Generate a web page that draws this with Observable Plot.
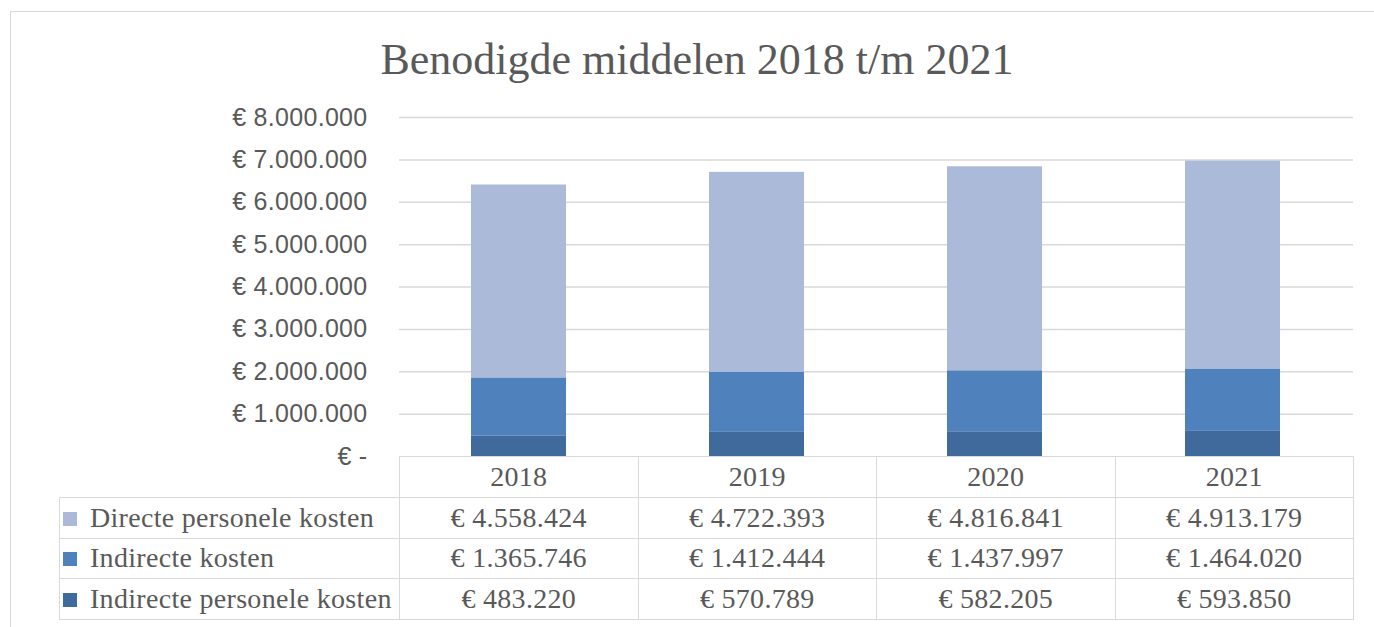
<!DOCTYPE html>
<html>
<head>
<meta charset="utf-8">
<script src="https://cdn.jsdelivr.net/npm/d3@7"></script>
<script src="https://cdn.jsdelivr.net/npm/@observablehq/plot@0.6"></script>
<style>
  html, body { margin: 0; padding: 0; background: #fff; }
  #wrap { position: relative; width: 1374px; height: 627px; overflow: hidden; background: #fff; }
  #frame { position: absolute; left: 10px; top: 11px; width: 1400px; height: 700px; border-top: 1.5px solid #d9d9d9; border-left: 1.5px solid #d9d9d9; box-sizing: border-box; }
  #title { position: absolute; left: 0; top: 34px; width: 1394px; text-align: center; font-family: "Liberation Serif", serif; font-size: 44px; color: #595959; white-space: nowrap; }
  #chart { position: absolute; left: 0; top: 0; }
  #tbl { position: absolute; left: 59px; top: 456px; border-collapse: collapse; font-family: "Liberation Serif", serif; font-size: 28px; letter-spacing: 0.3px; color: #595959; table-layout: fixed; }
  #tbl tr { height: 40.8px; }
  #tbl td { border: 1.5px solid #d9d9d9; padding: 0; text-align: center; white-space: nowrap; line-height: 30px; }
  #tbl td.lab { text-align: left; padding-left: 3px; }
  #tbl td.blank { border-top: none; border-left: none; }
  .key { display: inline-block; width: 14px; height: 14px; margin-right: 13px; vertical-align: 1px; }
</style>
</head>
<body>
<div id="wrap">
  <div id="frame"></div>
  <div id="title"></div>
  <div id="chart"></div>
  <table id="tbl"></table>
</div>
<script>
const titleText = "Benodigde middelen 2018 t/m 2021";
const years = ["2018", "2019", "2020", "2021"];
const seriesNames = ["Directe personele kosten", "Indirecte kosten", "Indirecte personele kosten"];
const seriesColors = ["#abbad8", "#4f81bd", "#40699c"];
const directePersoneleKosten = [4558424, 4722393, 4816841, 4913179];
const indirecteKosten = [1365746, 1412444, 1437997, 1464020];
const indirectePersoneleKosten = [483220, 570789, 582205, 593850];
const yTicks = [0, 1000000, 2000000, 3000000, 4000000, 5000000, 6000000, 7000000, 8000000];

const seriesValues = [directePersoneleKosten, indirecteKosten, indirectePersoneleKosten];

const locale = d3.formatLocale({decimal: ",", thousands: ".", grouping: [3], currency: ["€\u00a0", ""]});
const fmt = locale.format("$,.0f");
const tickFmt = v => v === 0 ? "€ -" : fmt(v);

document.getElementById("title").textContent = titleText;

// stacking order: bottom = Indirecte personele kosten
const stackOrder = ["Indirecte personele kosten", "Indirecte kosten", "Directe personele kosten"];
const rows = [];
years.forEach((yr, i) => {
  seriesNames.forEach((s, j) => rows.push({year: yr, series: s, value: seriesValues[j][i]}));
});

const chart = Plot.plot({
  width: 1374,
  height: 470,
  marginLeft: 399,
  marginRight: 21,
  marginTop: 117,
  marginBottom: 14,
  x: {domain: years, paddingInner: 0.6, paddingOuter: 0.3, axis: null},
  y: {domain: [0, 8000000], ticks: yTicks, tickFormat: tickFmt, label: null},
  color: {domain: seriesNames, range: seriesColors},
  style: {fontFamily: "Liberation Sans, sans-serif", fontSize: "25px", color: "#595959", background: "transparent", letterSpacing: "0.3px"},
  marks: [
    Plot.gridY(yTicks.slice(1), {stroke: "#d9d9d9", strokeOpacity: 1, strokeWidth: 1.5}),
    Plot.axisY(yTicks, {tickSize: 0, tickPadding: 32, tickFormat: tickFmt, label: null, fill: "#595959", fontSize: 25}),
    Plot.barY(rows, Plot.stackY({order: stackOrder}, {x: "year", y: "value", fill: "series"}))
  ]
});
document.getElementById("chart").appendChild(chart);

// data table
const tbl = document.getElementById("tbl");
const colW = [340, 238.5, 238.5, 238.5, 238.5];
const cg = document.createElement("colgroup");
colW.forEach(w => { const c = document.createElement("col"); c.style.width = w + "px"; cg.appendChild(c); });
tbl.appendChild(cg);
tbl.style.width = d3.sum(colW) + "px";
const hr = document.createElement("tr");
const blank = document.createElement("td"); blank.className = "blank"; hr.appendChild(blank);
years.forEach(y => { const td = document.createElement("td"); td.textContent = y; hr.appendChild(td); });
tbl.appendChild(hr);
seriesNames.forEach((s, j) => {
  const tr = document.createElement("tr");
  const lab = document.createElement("td"); lab.className = "lab";
  const key = document.createElement("span"); key.className = "key"; key.style.background = seriesColors[j];
  lab.appendChild(key); lab.appendChild(document.createTextNode(s));
  tr.appendChild(lab);
  seriesValues[j].forEach(v => { const td = document.createElement("td"); td.textContent = fmt(v); tr.appendChild(td); });
  tbl.appendChild(tr);
});
</script>
</body>
</html>
